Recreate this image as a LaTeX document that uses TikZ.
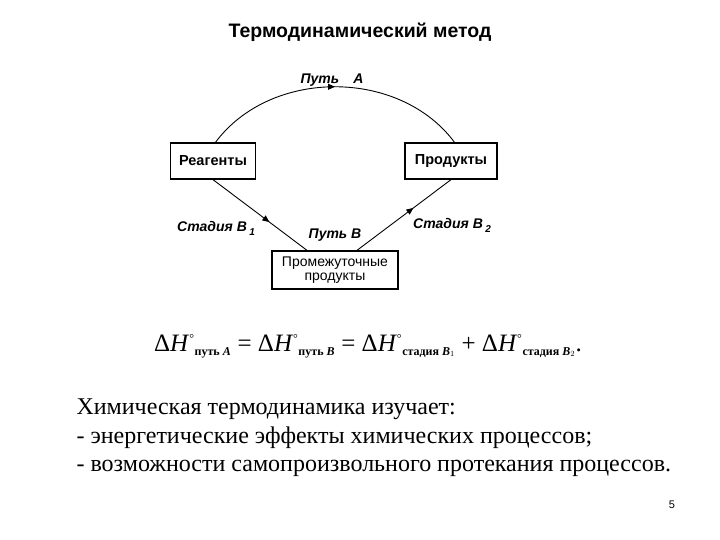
\documentclass[tikz,border=0pt]{standalone}
\usepackage{fontspec}
\setmainfont{Liberation Serif}
\newfontfamily\arialf{Liberation Sans}
\usetikzlibrary{arrows.meta,decorations.markings}
\begin{document}
\begin{tikzpicture}[x=1pt,y=-1pt,
  box/.style={draw,line width=1.3pt,font=\arialf\bfseries\fontsize{14.5}{16}\selectfont,inner sep=2pt},
  lab/.style={font=\arialf\bfseries\itshape\fontsize{14}{16}\selectfont},
  midarrow/.style={line width=0.9pt,postaction={decorate},decoration={markings,mark=at position #1 with {\arrow{Triangle[length=7pt,width=6pt]}}}}]
\useasboundingbox (0,0) rectangle (720,540);
\node[font=\arialf\bfseries\fontsize{19.5}{22}\selectfont] (title) at (360,32) {Термодинамический метод};
\node[box,minimum width=85pt,minimum height=36pt] (r) at (213,161) {Реагенты};
\node[box,minimum width=92pt,minimum height=36pt] (p) at (451,161) {Продукты};
\node[box,align=center,inner sep=1pt,minimum width=126pt,minimum height=38pt,font=\arialf\fontsize{14}{14}\selectfont] (m) at (335,270) {Промежуточные\\продукты};
\coordinate (ra) at (215,143);
\coordinate (pa) at (455,143);
\draw[midarrow=0.5] (ra) .. controls (270,68) and (400,68) .. (pa);
\draw[midarrow=0.6] (r.south) -- (m.north -| 307,0);
\draw[midarrow=0.6] (m.north -| 357,0) -- (p.south);
\node[lab] (la) at (332,80) {Путь\quad A};
\node[lab] (lb1) at (216,228) {Стадия B\,\raisebox{-4pt}{\fontsize{10}{10}\selectfont 1}};
\node[lab] (lb) at (335,235) {Путь B};
\node[lab] (lb2) at (452,225) {Стадия B\,\raisebox{-4pt}{\fontsize{10}{10}\selectfont 2}};
\newcommand\sublab[1]{\hbox{\fontsize{12}{12}\selectfont\bfseries #1}}
\newcommand\myDH{Δ\textit{H}$^{\hbox{\fontsize{12}{12}\selectfont °}}$}
\node[font=\fontsize{25}{28}\selectfont] (eq) at (368,346) {\myDH$_{\sublab{путь \itshape A}}$ = \myDH$_{\sublab{путь \itshape B}}$ = \myDH$_{\sublab{стадия \itshape B$_1$}}$ + \myDH$_{\sublab{стадия \itshape B$_2$}}$.};
\node[anchor=west,align=left,font=\fontsize{24}{28.5}\selectfont] (txt) at (73,438) {Химическая термодинамика изучает:\\- энергетические эффекты химических процессов;\\- возможности самопроизвольного протекания процессов.};
\node[font=\arialf\fontsize{11}{12}\selectfont] (pg) at (672,505) {5};
\end{tikzpicture}
\end{document}
